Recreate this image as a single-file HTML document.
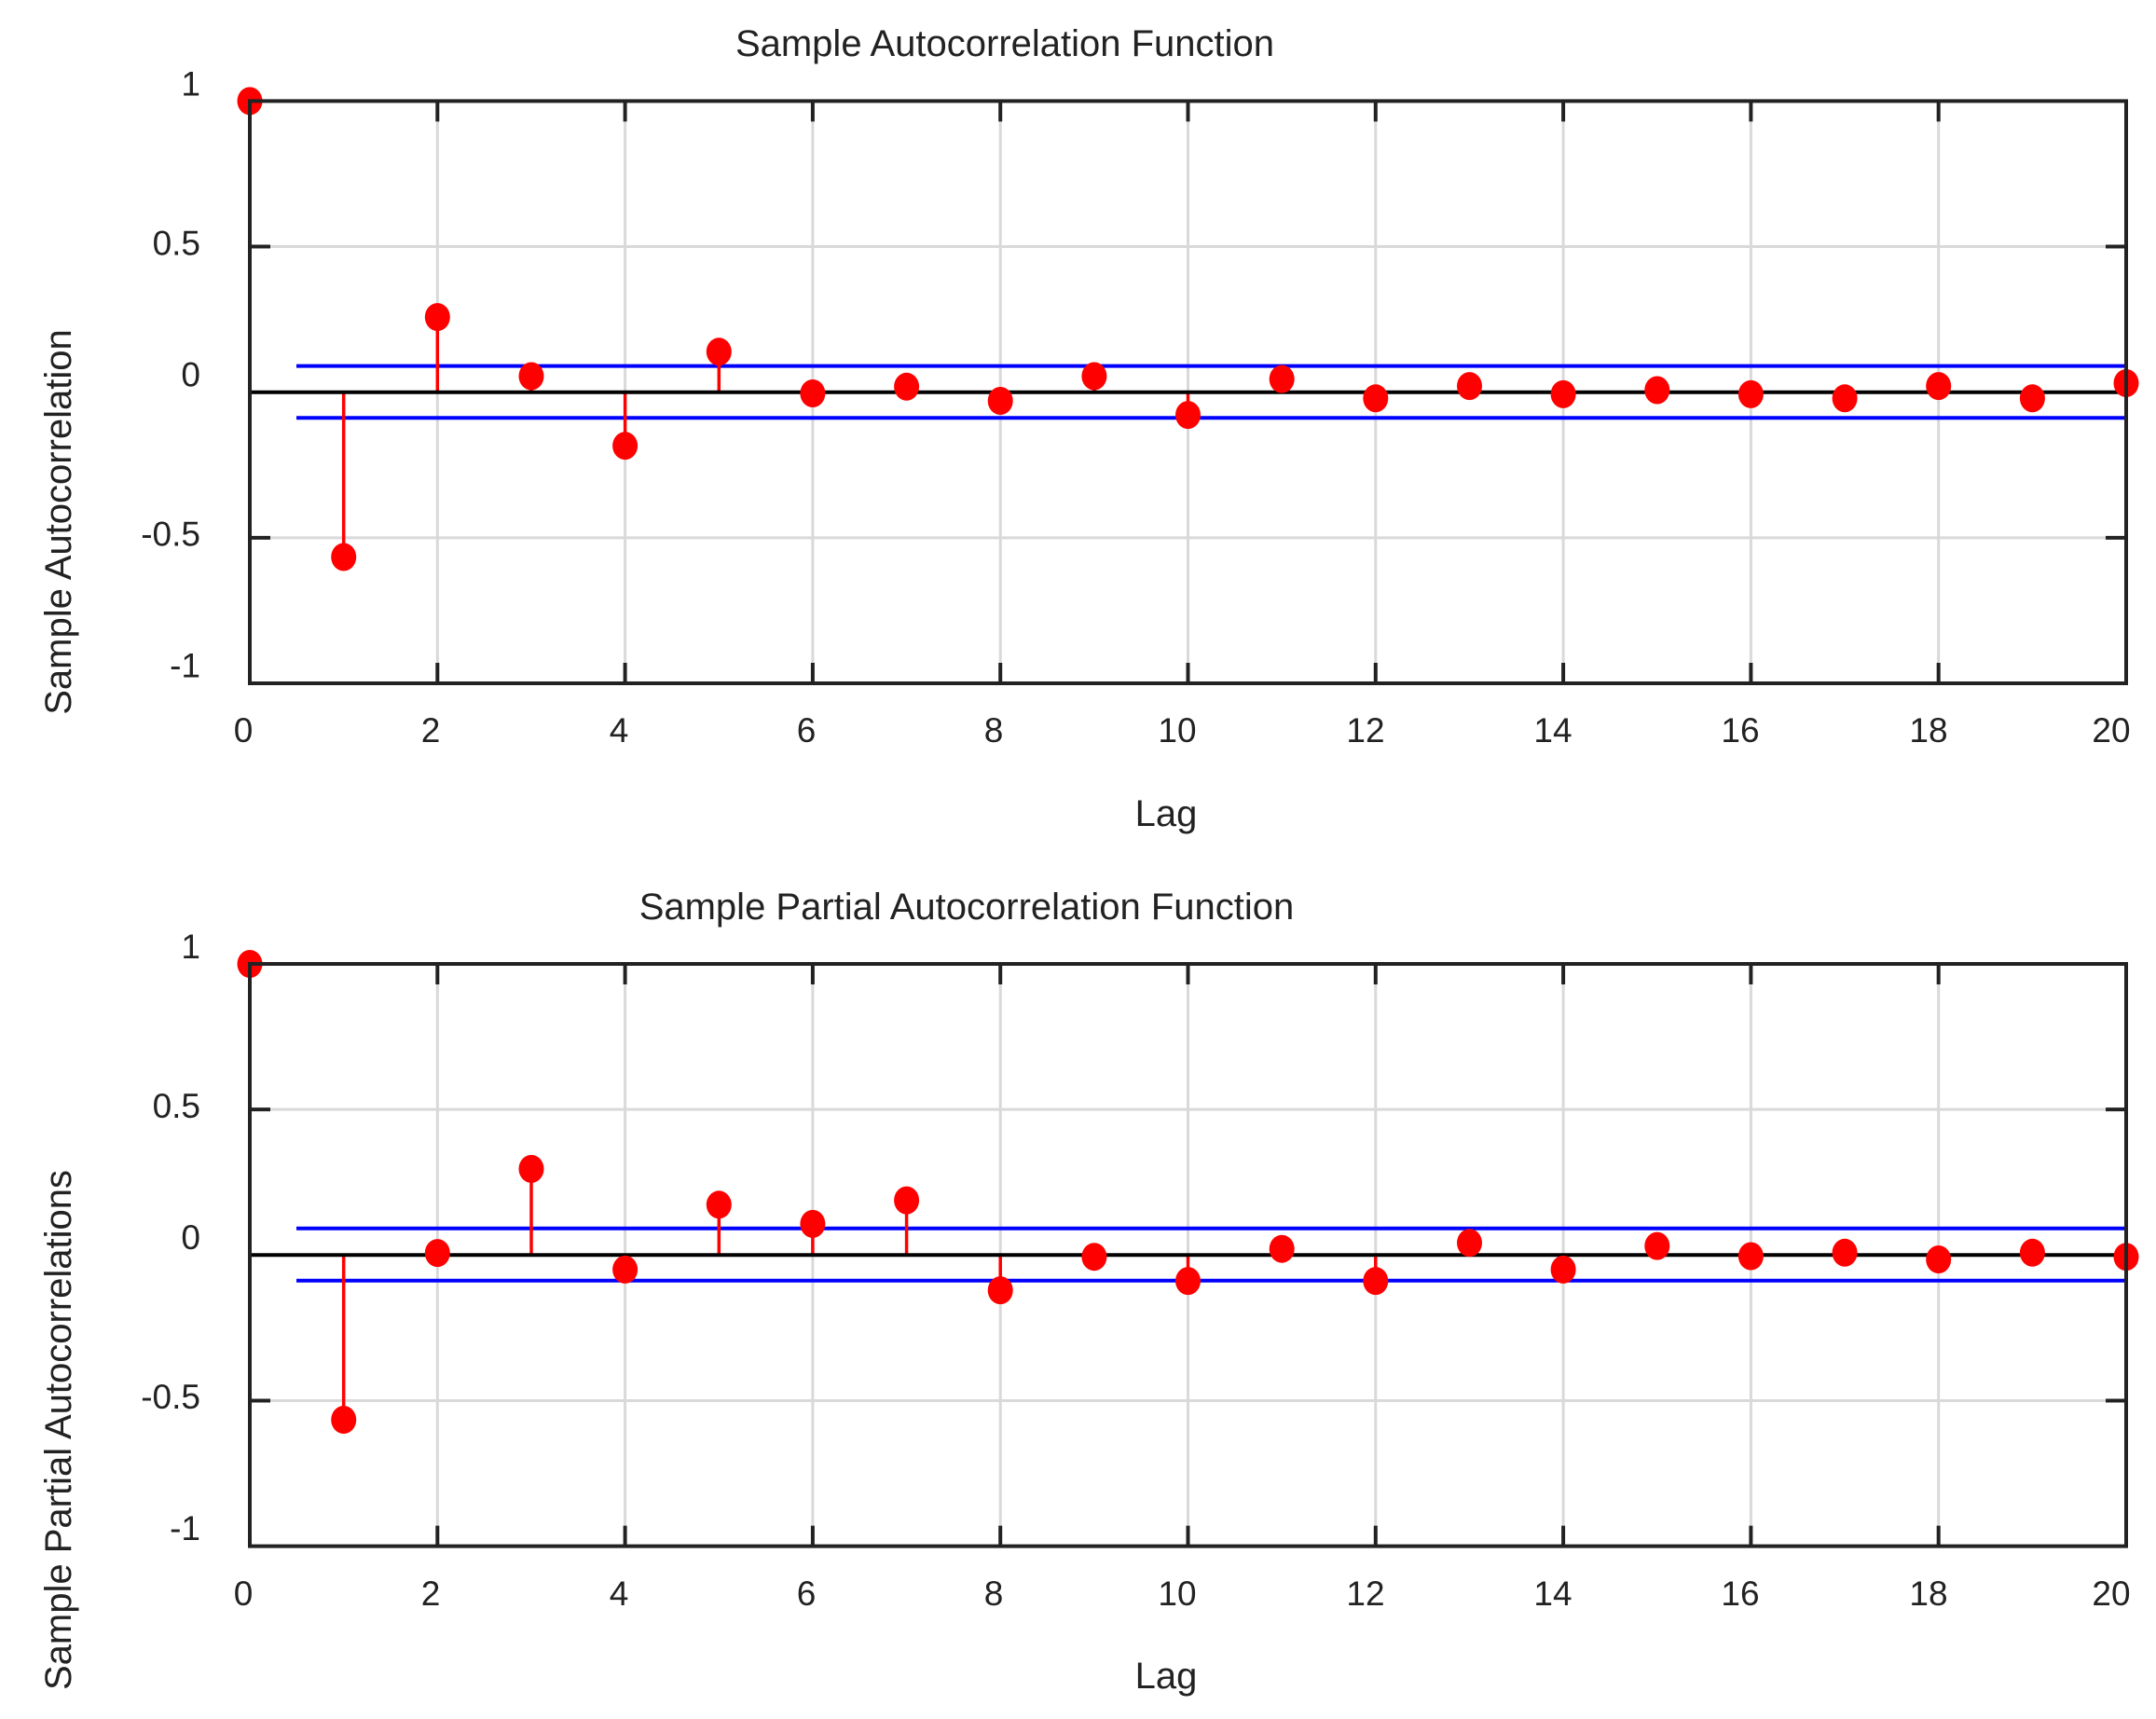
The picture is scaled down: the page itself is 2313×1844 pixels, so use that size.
<!DOCTYPE html>
<html><head><meta charset="utf-8"><style>html,body{margin:0;padding:0;background:#fff}svg{display:block}text{font-family:"Liberation Sans",Arial,sans-serif;fill:#222}</style></head><body>
<svg width="2313" height="1844" viewBox="0 0 2313 1844" xmlns="http://www.w3.org/2000/svg">
<rect width="2313" height="1844" fill="#fff"/>
<defs>
<g id="grid" stroke="#d9d9d9" stroke-width="3">
<line x1="469.3" y1="0" x2="469.3" y2="624.6"/><line x1="670.6" y1="0" x2="670.6" y2="624.6"/><line x1="871.9" y1="0" x2="871.9" y2="624.6"/><line x1="1073.2" y1="0" x2="1073.2" y2="624.6"/><line x1="1274.5" y1="0" x2="1274.5" y2="624.6"/><line x1="1475.8" y1="0" x2="1475.8" y2="624.6"/><line x1="1677.1" y1="0" x2="1677.1" y2="624.6"/><line x1="1878.4" y1="0" x2="1878.4" y2="624.6"/><line x1="2079.7" y1="0" x2="2079.7" y2="624.6"/>
<line x1="268" y1="156.15" x2="2281" y2="156.15"/><line x1="268" y1="468.45" x2="2281" y2="468.45"/>
</g>
<g id="frame" stroke="#222" stroke-width="4" fill="none">
<rect x="268" y="0" width="2013" height="624.6"/>
<path d="M469.3 0v22M670.6 0v22M871.9 0v22M1073.2 0v22M1274.5 0v22M1475.8 0v22M1677.1 0v22M1878.4 0v22M2079.7 0v22M469.3 624.6v-22M670.6 624.6v-22M871.9 624.6v-22M1073.2 624.6v-22M1274.5 624.6v-22M1475.8 624.6v-22M1677.1 624.6v-22M1878.4 624.6v-22M2079.7 624.6v-22M268 156.15h22M268 468.45h22M2281 156.15h-22M2281 468.45h-22"/>
</g>
<g id="ylab" font-size="37" text-anchor="end">
<text x="215" y="-6">1</text><text x="215" y="165">0.5</text><text x="215" y="306">0</text><text x="215" y="477">-0.5</text><text x="215" y="618">-1</text>
</g>
<g id="xlab" font-size="37" text-anchor="middle">
<text x="261">0</text><text x="462">2</text><text x="664">4</text><text x="865">6</text><text x="1066">8</text><text x="1263">10</text><text x="1465">12</text><text x="1666">14</text><text x="1867">16</text><text x="2069">18</text><text x="2265">20</text>
</g>
</defs>

<!-- TOP -->
<use href="#grid" y="108.4"/>
<g stroke="#0000ff" stroke-width="4"><line x1="318" y1="392.6" x2="2281" y2="392.6"/><line x1="318" y1="448.3" x2="2281" y2="448.3"/></g>
<g stroke="#ff0000" stroke-width="3.5">
<line x1="268" y1="420.7" x2="268" y2="108.4"/><line x1="368.7" y1="420.7" x2="368.7" y2="597.5"/><line x1="469.3" y1="420.7" x2="469.3" y2="340.1"/><line x1="570" y1="420.7" x2="570" y2="403.5"/><line x1="670.6" y1="420.7" x2="670.6" y2="478.2"/><line x1="771.3" y1="420.7" x2="771.3" y2="377.3"/><line x1="1173.9" y1="420.7" x2="1173.9" y2="403.5"/><line x1="1274.5" y1="420.7" x2="1274.5" y2="445.1"/><line x1="1375.2" y1="420.7" x2="1375.2" y2="406.6"/>
</g>
<line x1="268" y1="420.7" x2="2281" y2="420.7" stroke="#000" stroke-width="4"/>
<g fill="#ff0000">
<ellipse cx="268" cy="108.4" rx="13.5" ry="15"/><ellipse cx="368.7" cy="597.5" rx="13.5" ry="15"/><ellipse cx="469.3" cy="340.1" rx="13.5" ry="15"/><ellipse cx="570" cy="403.5" rx="13.5" ry="15"/><ellipse cx="670.6" cy="478.2" rx="13.5" ry="15"/><ellipse cx="771.3" cy="377.3" rx="13.5" ry="15"/><ellipse cx="871.9" cy="422" rx="13.5" ry="15"/><ellipse cx="972.6" cy="414.8" rx="13.5" ry="15"/><ellipse cx="1073.2" cy="430" rx="13.5" ry="15"/><ellipse cx="1173.9" cy="403.5" rx="13.5" ry="15"/><ellipse cx="1274.5" cy="445.1" rx="13.5" ry="15"/><ellipse cx="1375.2" cy="406.6" rx="13.5" ry="15"/><ellipse cx="1475.8" cy="427.3" rx="13.5" ry="15"/><ellipse cx="1576.5" cy="414.1" rx="13.5" ry="15"/><ellipse cx="1677.1" cy="422.9" rx="13.5" ry="15"/><ellipse cx="1777.8" cy="418.5" rx="13.5" ry="15"/><ellipse cx="1878.4" cy="422.9" rx="13.5" ry="15"/><ellipse cx="1979.1" cy="427.3" rx="13.5" ry="15"/><ellipse cx="2079.7" cy="414.1" rx="13.5" ry="15"/><ellipse cx="2180.4" cy="427.3" rx="13.5" ry="15"/><ellipse cx="2281" cy="411" rx="13.5" ry="15"/>
</g>
<use href="#frame" y="108.4"/>
<use href="#ylab" y="108.4"/>
<use href="#xlab" y="796"/>
<text x="1078" y="60" font-size="40" text-anchor="middle">Sample Autocorrelation Function</text>
<text x="1251" y="886" font-size="40" text-anchor="middle">Lag</text>
<text transform="translate(76,560) rotate(-90)" font-size="40" text-anchor="middle">Sample Autocorrelation</text>

<!-- BOTTOM -->
<use href="#grid" y="1034"/>
<g stroke="#0000ff" stroke-width="4"><line x1="318" y1="1317.8" x2="2281" y2="1317.8"/><line x1="318" y1="1373.8" x2="2281" y2="1373.8"/></g>
<g stroke="#ff0000" stroke-width="3.5">
<line x1="268" y1="1346.3" x2="268" y2="1034"/><line x1="368.7" y1="1346.3" x2="368.7" y2="1523"/><line x1="570" y1="1346.3" x2="570" y2="1253.9"/><line x1="670.6" y1="1346.3" x2="670.6" y2="1361.9"/><line x1="771.3" y1="1346.3" x2="771.3" y2="1292.3"/><line x1="871.9" y1="1346.3" x2="871.9" y2="1312.9"/><line x1="972.6" y1="1346.3" x2="972.6" y2="1287.6"/><line x1="1073.2" y1="1346.3" x2="1073.2" y2="1384.1"/><line x1="1274.5" y1="1346.3" x2="1274.5" y2="1374.1"/><line x1="1475.8" y1="1346.3" x2="1475.8" y2="1374.1"/><line x1="1677.1" y1="1346.3" x2="1677.1" y2="1361.9"/>
</g>
<line x1="268" y1="1346.3" x2="2281" y2="1346.3" stroke="#000" stroke-width="4"/>
<g fill="#ff0000">
<ellipse cx="268" cy="1034" rx="13.5" ry="15"/><ellipse cx="368.7" cy="1523" rx="13.5" ry="15"/><ellipse cx="469.3" cy="1344.1" rx="13.5" ry="15"/><ellipse cx="570" cy="1253.9" rx="13.5" ry="15"/><ellipse cx="670.6" cy="1361.9" rx="13.5" ry="15"/><ellipse cx="771.3" cy="1292.3" rx="13.5" ry="15"/><ellipse cx="871.9" cy="1312.9" rx="13.5" ry="15"/><ellipse cx="972.6" cy="1287.6" rx="13.5" ry="15"/><ellipse cx="1073.2" cy="1384.1" rx="13.5" ry="15"/><ellipse cx="1173.9" cy="1348.2" rx="13.5" ry="15"/><ellipse cx="1274.5" cy="1374.1" rx="13.5" ry="15"/><ellipse cx="1375.2" cy="1339.7" rx="13.5" ry="15"/><ellipse cx="1475.8" cy="1374.1" rx="13.5" ry="15"/><ellipse cx="1576.5" cy="1333.2" rx="13.5" ry="15"/><ellipse cx="1677.1" cy="1361.9" rx="13.5" ry="15"/><ellipse cx="1777.8" cy="1336.6" rx="13.5" ry="15"/><ellipse cx="1878.4" cy="1347.5" rx="13.5" ry="15"/><ellipse cx="1979.1" cy="1343.8" rx="13.5" ry="15"/><ellipse cx="2079.7" cy="1351" rx="13.5" ry="15"/><ellipse cx="2180.4" cy="1343.8" rx="13.5" ry="15"/><ellipse cx="2281" cy="1348.2" rx="13.5" ry="15"/>
</g>
<use href="#frame" y="1034"/>
<use href="#ylab" y="1034"/>
<use href="#xlab" y="1722"/>
<text x="1037" y="986" font-size="40" text-anchor="middle">Sample Partial Autocorrelation Function</text>
<text x="1251" y="1811" font-size="40" text-anchor="middle">Lag</text>
<text transform="translate(76,1534) rotate(-90)" font-size="40" text-anchor="middle">Sample Partial Autocorrelations</text>
</svg>
</body></html>
